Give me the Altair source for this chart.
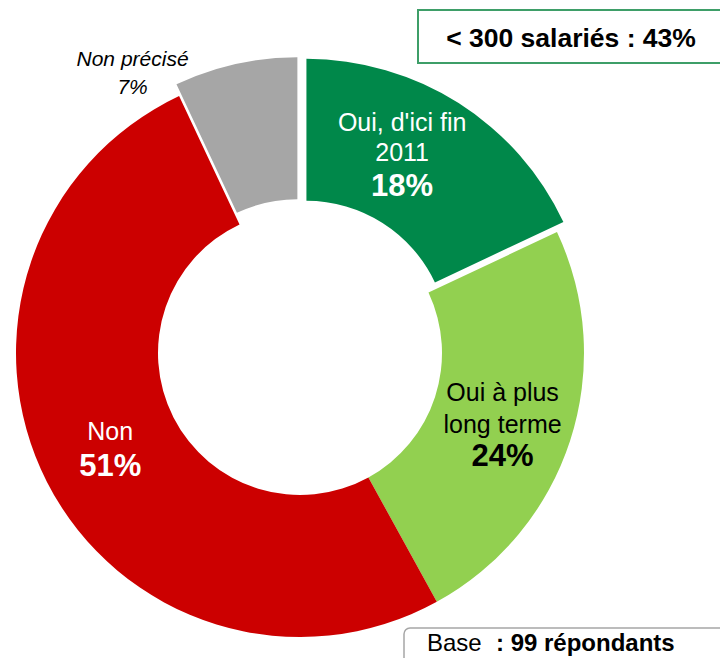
import math
import altair as alt
import pandas as pd

# ---- data ----
categories = ["Oui, d'ici fin 2011", "Oui à plus long terme", "Non", "Non précisé"]
values = [18, 24, 51, 7]
colors = ["#00884A", "#92D050", "#CC0000", "#A6A6A6"]
name_line1 = ["Oui, d'ici fin", "Oui à plus", "Non", "Non précisé"]
name_line2 = ["2011", "long terme", "", ""]
pct_labels = ["18%", "24%", "51%", "7%"]
exploded = ["Oui, d'ici fin 2011", "Non précisé"]
box_title = "< 300 salariés : 43%"
base_normal = "Base"
base_bold = ": 99 répondants"

FONT = "Liberation Sans"
CX, CY = 292, 345          # donut centre (chart coords)
R_OUT, R_IN = 284, 142
EXPLODE = 12
LABEL_R = 213

df = pd.DataFrame({
    "cat": categories,
    "value": values,
    "order": list(range(len(categories))),
    "l1": name_line1,
    "l2": name_line2,
    "pct": pct_labels,
})

theta_scale = alt.Scale(domain=[0, 100], range=[0, 2 * math.pi])
color_scale = alt.Scale(domain=categories, range=colors)

base = (
    alt.Chart(df)
    .transform_window(cum="sum(value)", sort=[alt.SortField("order", order="ascending")], frame=[None, 0])
    .transform_calculate(start="datum.cum - datum.value", mid="datum.cum - datum.value / 2")
)

def arc_layer(cats, cx, cy):
    return (
        base.transform_filter(alt.FieldOneOfPredicate(field="cat", oneOf=cats))
        .mark_arc(innerRadius=R_IN, outerRadius=R_OUT)
        .encode(
            theta=alt.Theta("start:Q", scale=theta_scale),
            theta2=alt.Theta2("cum:Q"),
            color=alt.Color("cat:N", scale=color_scale, legend=None),
            x=alt.value(cx),
            y=alt.value(cy),
        )
    )

layers = []
plain = [c for c in categories if c not in exploded]
layers.append(arc_layer(plain, CX, CY))
total = sum(values)
cum = 0
for c, v in zip(categories, values):
    if c in exploded:
        mid = (cum + v / 2) / total * 2 * math.pi
        layers.append(arc_layer([c], CX + EXPLODE * math.sin(mid), CY - EXPLODE * math.cos(mid)))
    cum += v

def text_layer(cat, field, dx, dy, size, color, bold=False, italic=False, radius=LABEL_R):
    return (
        base.transform_filter(alt.FieldEqualPredicate(field="cat", equal=cat))
        .mark_text(
            dx=dx, dy=dy, fontSize=size, font=FONT,
            fontWeight="bold" if bold else "normal",
            fontStyle="italic" if italic else "normal",
            color=color, align="center", baseline="middle",
        )
        .encode(
            theta=alt.Theta("mid:Q", scale=theta_scale),
            radius=alt.value(radius),
            x=alt.value(CX),
            y=alt.value(CY),
            text=alt.Text(f"{field}:N"),
        )
    )

c0, c1, c2, c3 = categories
layers += [
    text_layer(c0, "l1", -12, -50, 25, "white"),
    text_layer(c0, "l2", -12, -20, 25, "white"),
    text_layer(c0, "pct", -12, 14, 31, "white", bold=True),
    text_layer(c1, "l1", 0, -26, 25, "black"),
    text_layer(c1, "l2", 0, 6, 25, "black"),
    text_layer(c1, "pct", 0, 38, 31, "black", bold=True),
    text_layer(c2, "l1", 0, -18, 25, "white"),
    text_layer(c2, "pct", 0, 17, 31, "white", bold=True),
    text_layer(c3, "l1", -102, 0, 21, "black", italic=True, radius=300),
    text_layer(c3, "pct", -102, 28, 21, "black", italic=True, radius=300),
]

# ---- annotation boxes ----
one = alt.Chart(pd.DataFrame({"title": [box_title], "bn": [base_normal], "bb": [base_bold]}))

title_box = one.mark_rect(fill="white", stroke="#3E9E68", strokeWidth=2).encode(
    x=alt.value(410), x2=alt.value(735), y=alt.value(2), y2=alt.value(55)
)
title_text = one.mark_text(font=FONT, fontSize=26.5, fontWeight="bold", color="black",
                           align="center", baseline="middle").encode(
    x=alt.value(563), y=alt.value(31), text="title:N"
)
base_box = one.mark_rect(fill="white", stroke="#A6A6A6", strokeWidth=1.5, cornerRadius=6).encode(
    x=alt.value(396), x2=alt.value(740), y=alt.value(620), y2=alt.value(700)
)
base_text1 = one.mark_text(font=FONT, fontSize=24, color="black", align="left",
                           baseline="alphabetic").encode(
    x=alt.value(419), y=alt.value(643), text="bn:N"
)
base_text2 = one.mark_text(font=FONT, fontSize=24, fontWeight="bold", color="black",
                           align="left", baseline="alphabetic").encode(
    x=alt.value(488), y=alt.value(643), text="bb:N"
)

chart = (
    alt.layer(*layers, title_box, title_text, base_box, base_text1, base_text2)
    .properties(width=712, height=650, padding=0, autosize="none", background="white")
    .configure_view(stroke=None)
)

chart.save("out.html", embed_options={"renderer": "svg", "actions": False})
